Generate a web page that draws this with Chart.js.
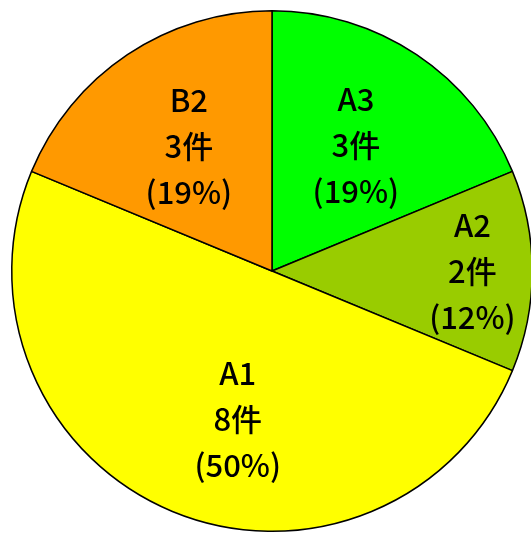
<!DOCTYPE html>
<html>
<head>
<meta charset="utf-8">
<script src="https://cdn.jsdelivr.net/npm/chart.js@4/dist/chart.umd.min.js"></script>
<style>
html,body{margin:0;padding:0;background:#fff;overflow:hidden;}
canvas{display:block;}
</style>
</head>
<body>
<canvas id="c" width="540" height="533"></canvas>
<script>
const categories = ['A3', 'A2', 'A1', 'B2'];
const counts = [3, 2, 8, 3];
const percents = ['19%', '12%', '50%', '19%'];
const unit = '件';
const colors = ['#00FF00', '#99CC00', '#FFFF00', '#FF9900'];
// label placement: fraction of radius, angle offset (deg) from slice mid-angle
const labelRadius = [0.58, 0.77, 0.585, 0.575];
const labelAngleOffset = [0, 0, -9.5, 0];

const labelPlugin = {
  id: 'sliceLabels',
  afterDatasetsDraw(chart) {
    const ctx = chart.ctx;
    const meta = chart.getDatasetMeta(0);
    ctx.save();
    ctx.fillStyle = '#000';
    ctx.font = '500 31px "Noto Sans CJK JP", "Noto Sans", sans-serif';
    ctx.textAlign = 'center';
    ctx.textBaseline = 'middle';
    meta.data.forEach((arc, i) => {
      const p = arc.getProps(['x', 'y', 'startAngle', 'endAngle', 'outerRadius'], true);
      const mid = (p.startAngle + p.endAngle) / 2 + labelAngleOffset[i] * Math.PI / 180;
      const r = p.outerRadius * labelRadius[i];
      const cx = p.x + Math.cos(mid) * r;
      const cy = p.y + Math.sin(mid) * r;
      const lines = [categories[i], counts[i] + unit, '(' + percents[i] + ')'];
      const lh = 46;
      lines.forEach((t, k) => {
        ctx.fillText(t, cx, cy + (k - 1) * lh);
      });
    });
    ctx.restore();
  }
};

new Chart(document.getElementById('c'), {
  type: 'pie',
  data: {
    labels: categories,
    datasets: [{
      data: counts,
      backgroundColor: colors,
      borderColor: '#000',
      borderWidth: 1.5,
      hoverOffset: 0
    }]
  },
  options: {
    responsive: false,
    animation: false,
    layout: { padding: { left: 11, top: 10, right: 7, bottom: 1 } },
    plugins: {
      legend: { display: false },
      tooltip: { enabled: false }
    }
  },
  plugins: [labelPlugin]
});
</script>
</body>
</html>
